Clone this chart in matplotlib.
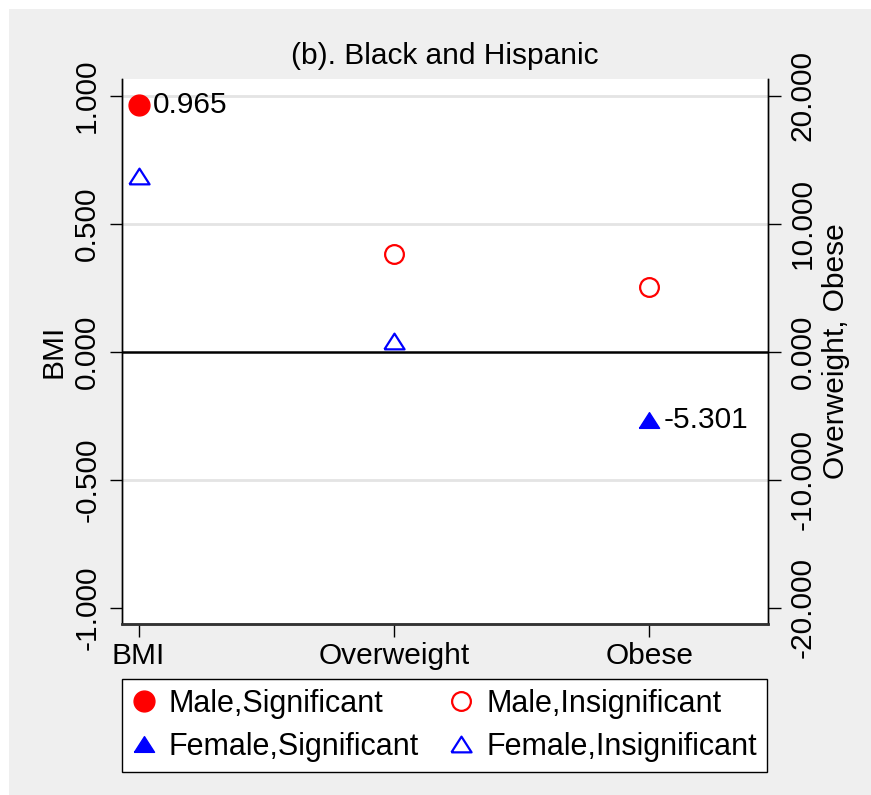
import matplotlib
matplotlib.use("Agg")
import matplotlib.pyplot as plt
from matplotlib.lines import Line2D
from matplotlib.patches import Rectangle

plt.rcParams['font.family'] = ['Liberation Sans', 'DejaVu Sans']

# data
categories = ["BMI", "Overweight", "Obese"]
x_pos = [1, 2, 3]
# BMI on left axis, Overweight/Obese on right axis
male_sig_x = [1]
male_sig_y = [0.965]
male_insig_x = [2, 3]
male_insig_y = [7.66, 5.06]          # right axis
female_sig_x = [3]
female_sig_y = [-5.301]              # right axis
female_insig_bmi_x = [1]
female_insig_bmi_y = [0.689]         # left axis
female_insig_x = [2]
female_insig_y = [0.85]              # right axis
left_ticks = [-1.0, -0.5, 0.0, 0.5, 1.0]
right_ticks = [-20, -10, 0, 10, 20]
grid_vals = [-0.5, 0.5, 1.0]

W, H = 871, 795
FS = 21.5
fig = plt.figure(figsize=(W / 100, H / 100), dpi=100)
fig.patch.set_facecolor('white')
fig.patches.append(Rectangle((9 / W, 0), 1, 1 - 9 / H, transform=fig.transFigure,
                             facecolor='#efefef', edgecolor='none', zorder=-10))

ax = fig.add_axes([122 / W, (H - 624) / H, 646 / W, 545 / H])
ax.set_facecolor('white')
ax.set_xlim(0.935, 3.464)
ax.set_ylim(-1.0625, 1.0664)
ax2 = ax.twinx()
ax2.set_ylim(-1.0625 * 20, 1.0664 * 20)

for g in grid_vals:
    ax.axhline(g, color='#e4e4e4', lw=2, zorder=0)
ax.axhline(0, color='black', lw=1.8, zorder=1)

tri = [(-1, -0.78), (1, -0.78), (0, 0.78), (-1, -0.78)]

ax.plot(male_sig_x, male_sig_y, 'o', color='red', ms=15, zorder=5)
ax.plot(female_insig_bmi_x, female_insig_bmi_y, linestyle='none', marker=tri, ms=14.5,
        mfc='none', mec='blue', mew=1.6, zorder=5)
ax2.plot(male_insig_x, male_insig_y, 'o', mfc='none', mec='red', ms=13.5, mew=1.6, zorder=5)
ax2.plot(female_sig_x, female_sig_y, linestyle='none', marker=tri, ms=14.5,
         color='blue', zorder=5)
ax2.plot(female_insig_x, female_insig_y, linestyle='none', marker=tri, ms=14.5,
         mfc='none', mec='blue', mew=1.6, zorder=5)

ax.annotate(f"{male_sig_y[0]:.3f}", (male_sig_x[0], male_sig_y[0]), xytext=(10.5, 0),
            textcoords='offset points', va='center', ha='left', fontsize=FS)
ax2.annotate(f"{female_sig_y[0]:.3f}", (female_sig_x[0], female_sig_y[0]), xytext=(10, 0),
             textcoords='offset points', va='center', ha='left', fontsize=FS)

ax.set_xticks(x_pos)
ax.set_xticklabels(categories, fontsize=FS)
ax.set_yticks(left_ticks)
ax.set_yticklabels([f"{v:.3f}" for v in left_ticks], fontsize=FS, rotation=90, va='center')
ax2.set_yticks(right_ticks)
ax2.set_yticklabels([f"{v:.3f}" for v in right_ticks], fontsize=FS, rotation=90, va='center')

ax.tick_params(axis='y', length=9, width=1, pad=6, direction='out')
ax.tick_params(axis='x', length=9, width=1, pad=4, direction='out', colors='black')
ax2.tick_params(axis='y', length=9, width=1, pad=6, direction='out')

for a in (ax, ax2):
    a.spines['top'].set_visible(False)
    a.spines['left'].set_linewidth(1)
    a.spines['right'].set_linewidth(1)
    a.spines['bottom'].set_linewidth(1.8)
    a.spines['bottom'].set_color('#333333')

ax.set_ylabel("BMI", fontsize=FS)
ax.yaxis.set_label_coords(-0.085, 0.5)
ax2.set_ylabel("Overweight, Obese", fontsize=FS)
ax2.yaxis.set_label_coords(1.083, 0.5)

ax.text(0.5, 1 + 23 / 545, "(b). Black and Hispanic", transform=ax.transAxes,
        ha='center', va='center', fontsize=FS)

handles = [
    Line2D([], [], linestyle='none', marker='o', color='red', ms=15),
    Line2D([], [], linestyle='none', marker=tri, color='blue', ms=14.5),
    Line2D([], [], linestyle='none', marker='o', mfc='none', mec='red', ms=13.5, mew=1.6),
    Line2D([], [], linestyle='none', marker=tri, mfc='none', mec='blue', ms=14.5, mew=1.6),
]
labels = ["Male,Significant", "Female,Significant", "Male,Insignificant", "Female,Insignificant"]
leg = fig.legend(handles, labels, ncol=2, loc='upper left',
                 bbox_to_anchor=(122 / W, 1 - 679 / H), borderaxespad=0,
                 fontsize=22, frameon=True, fancybox=False, edgecolor='black',
                 framealpha=1, borderpad=0.33, labelspacing=0.42,
                 handlelength=0.75, handletextpad=0.45, columnspacing=1.0)
leg.get_frame().set_linewidth(1)

fig.savefig("out.png", dpi=100)
